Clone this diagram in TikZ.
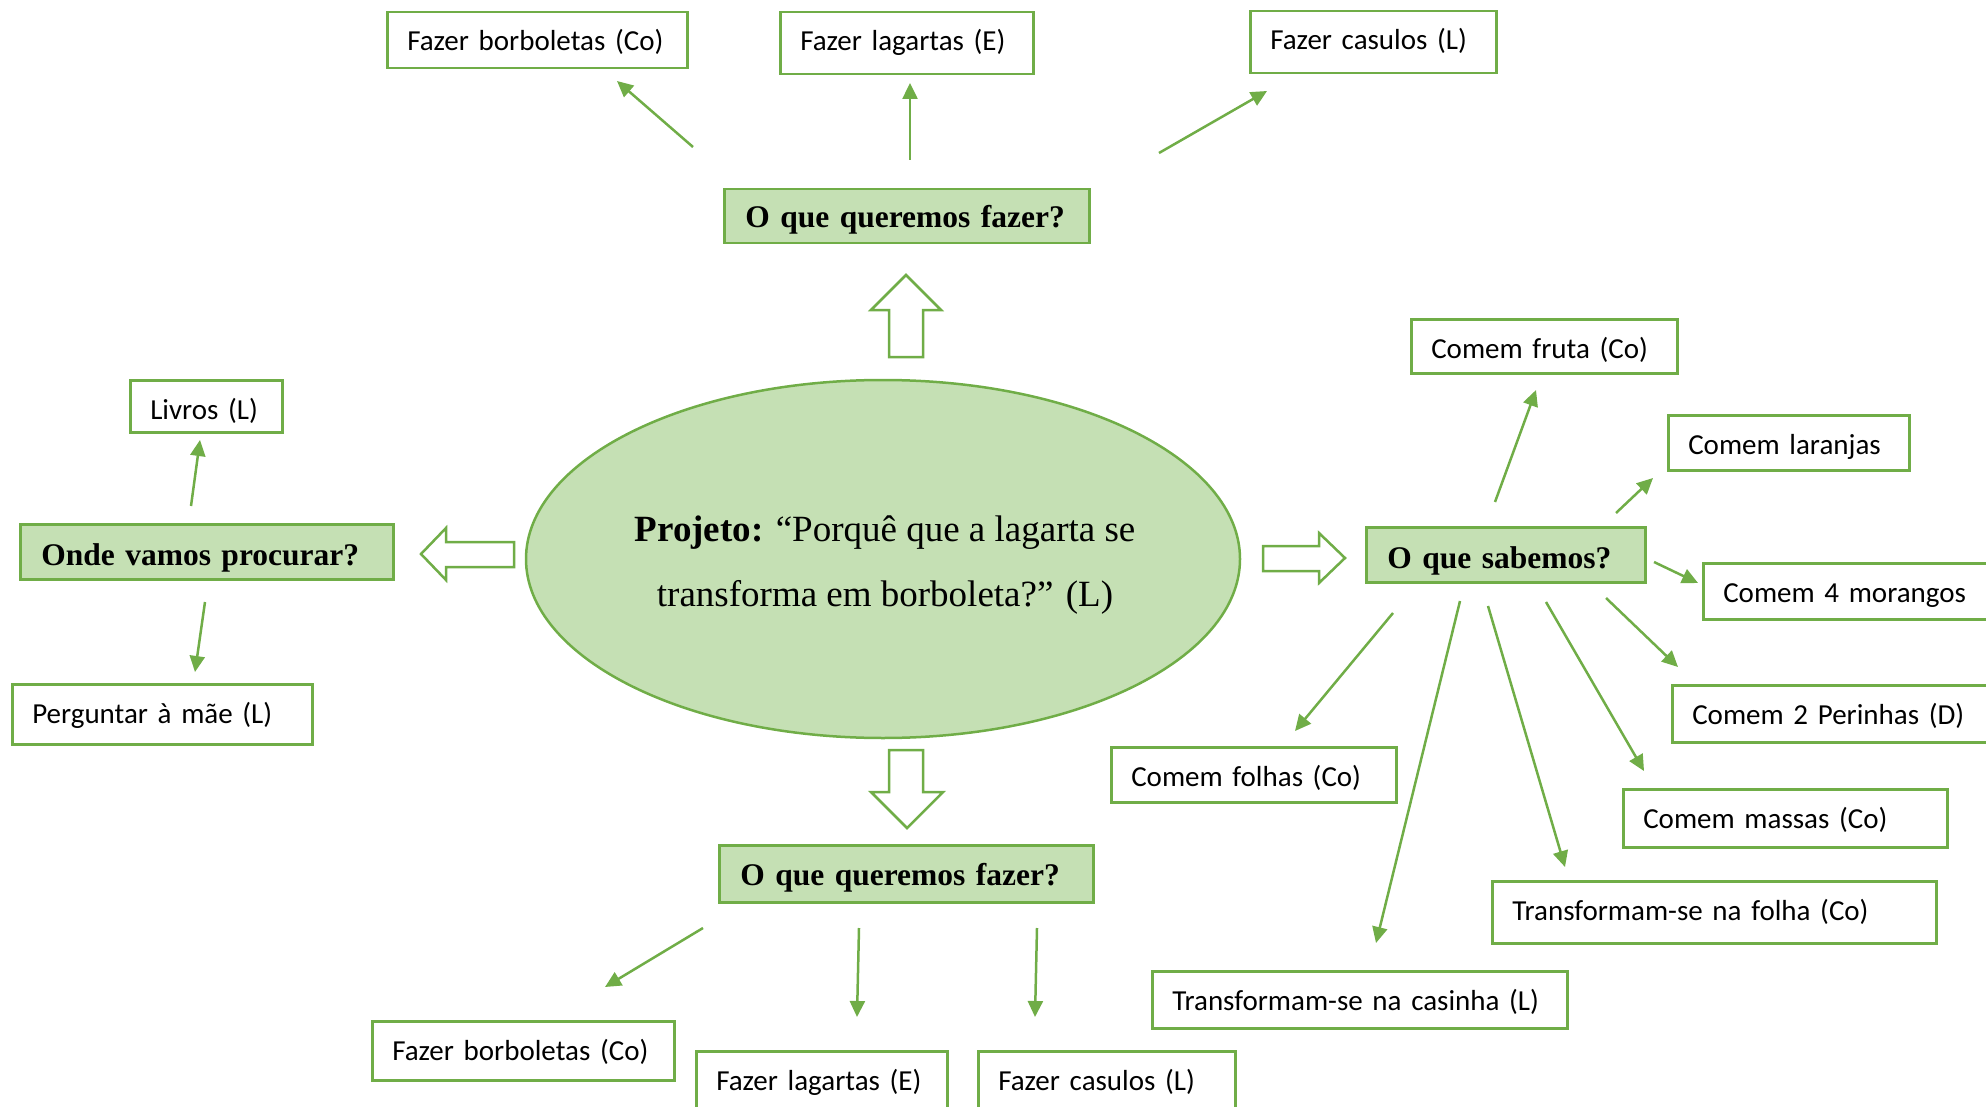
\documentclass[tikz,border=0pt]{standalone}
\usepackage{fontspec}
\setmainfont{Liberation Serif}
\newfontfamily\leaffont{Carlito}
\usetikzlibrary{shapes.geometric,arrows.meta}
\definecolor{gb}{HTML}{70AD47}
\definecolor{gf}{HTML}{C5E0B4}
\begin{document}
\begin{tikzpicture}[x=1pt,y=-1pt,
  leaf/.style={draw=gb, line width=2.5pt, fill=white, inner xsep=20pt, inner ysep=0pt,
    align=left, anchor=north west, text height=39pt,
    font=\leaffont\fontsize{29}{35}\selectfont},
  head/.style={draw=gb, line width=2.5pt, fill=gf, inner xsep=21pt, inner ysep=0pt,
    align=left, anchor=north west, text height=41pt,
    font=\bfseries\fontsize{31.5}{38}\selectfont},
  arr/.style={draw=gb, line width=2.5pt, -{Triangle[length=16pt,width=15pt]}},
  blk/.style={draw=gb, line width=2.5pt, fill=white, line join=miter}]
\useasboundingbox (0,0) rectangle (1986,1107);

% central ellipse
\node[ellipse, draw=gb, line width=2.5pt, fill=gf, minimum width=714pt, minimum height=358pt,
  inner sep=0pt] (proj) at (883,559) {};
\node[align=center, inner sep=0pt, font=\fontsize{37}{65}\selectfont] (projt) at (885,565)
  {\textbf{Projeto:} “Porquê que a lagarta se\\transforma em borboleta?” (L)};

% headings
\node[head, text width=323pt, minimum height=54pt, text height=38.5pt, text depth=15.5pt] (qtop) at (723,188) {O que queremos fazer?};
\node[head, text width=332pt, minimum height=57pt, text height=40pt, text depth=17pt] (qbot) at (718,844) {O que queremos fazer?};
\node[head, text width=331pt, minimum height=55pt, text depth=14pt] (onde) at (19,523) {Onde vamos procurar?};
\node[head, text width=237pt, minimum height=55pt, text depth=14pt] (sab) at (1365,526) {O que sabemos?};

% block arrows
\draw[blk] (889,357) -- (889,310) -- (871,310) -- (906,275) -- (941,310) -- (923,310) -- (923,357) -- cycle;
\draw[blk] (889,750) -- (889,792) -- (871,792) -- (907,828) -- (943,792) -- (923,792) -- (923,750) -- cycle;
\draw[blk] (1263,546) -- (1319,546) -- (1319,533) -- (1345,558) -- (1319,583) -- (1319,571) -- (1263,571) -- cycle;
\draw[blk] (514,542) -- (446,542) -- (446,528) -- (421,554) -- (446,580) -- (446,567) -- (514,567) -- cycle;

% top leaves
\node[leaf, text width=260pt, minimum height=56pt, text height=38pt, text depth=18pt] (tb) at (386,11) {Fazer borboletas (Co)};
\node[leaf, text width=213pt, minimum height=62pt, text height=38pt, text depth=24pt] (tl) at (779,11) {Fazer lagartas (E)};
\node[leaf, text width=206pt, minimum height=62pt, text height=38pt, text depth=24pt] (tc) at (1249,10) {Fazer casulos (L)};
% left leaves
\node[leaf, text width=112pt, minimum height=52pt, text depth=13pt] (livros) at (129,379) {Livros (L)};
\node[leaf, text width=260pt, minimum height=60pt, text depth=21pt] (perg) at (11,683) {Perguntar à mãe (L)};
% right leaves
\node[leaf, text width=226pt, minimum height=54pt, text depth=15pt] (fruta) at (1410,318) {Comem fruta (Co)};
\node[leaf, text width=201pt, minimum height=55pt, text depth=16pt] (lar) at (1667,414) {Comem laranjas};
\node[leaf, text width=300pt, minimum height=56pt, text depth=17pt] (mor) at (1702,562) {Comem 4 morangos};
\node[leaf, text width=320pt, minimum height=57pt, text depth=18pt] (per) at (1671,684) {Comem 2 Perinhas (D)};
\node[leaf, text width=245pt, minimum height=55pt, text depth=16pt] (folhas) at (1110,746) {Comem folhas (Co)};
\node[leaf, text width=284pt, minimum height=58pt, text depth=19pt] (massas) at (1622,788) {Comem massas (Co)};
\node[leaf, text width=404pt, minimum height=62pt, text depth=23pt] (tfolha) at (1491,880) {Transformam-se na folha (Co)};
\node[leaf, text width=375pt, minimum height=57pt, text depth=18pt] (cas) at (1151,970) {Transformam-se na casinha (L)};
% bottom leaves
\node[leaf, text width=262pt, minimum height=59pt, text depth=20pt] (bb) at (371,1020) {Fazer borboletas (Co)};
\node[leaf, text width=211pt, minimum height=62pt, text height=39pt, text depth=23pt] (bl) at (695,1050) {Fazer lagartas (E)};
\node[leaf, text width=217pt, minimum height=62pt, text height=39pt, text depth=23pt] (bc) at (977,1050) {Fazer casulos (L)};

% arrow end points
\coordinate (a1s) at (693,147);  \coordinate (a1e) at (617,81);
\coordinate (a2s) at (910,160);  \coordinate (a2e) at (910,83);
\coordinate (a3s) at (1159,153); \coordinate (a3e) at (1267,91);
\coordinate (l1s) at (191,506);  \coordinate (l1e) at (200,440);
\coordinate (l2s) at (205,602);  \coordinate (l2e) at (195,672);
\coordinate (r1s) at (1495,502); \coordinate (r1e) at (1536,390);
\coordinate (r2s) at (1616,513); \coordinate (r2e) at (1653,478);
\coordinate (r3s) at (1654,562); \coordinate (r3e) at (1698,583);
\coordinate (r4s) at (1606,598); \coordinate (r4e) at (1678,667);
\coordinate (r5s) at (1546,602); \coordinate (r5e) at (1644,771);
\coordinate (r6s) at (1488,606); \coordinate (r6e) at (1565,867);
\coordinate (r7s) at (1460,601); \coordinate (r7e) at (1376,943);
\coordinate (r8s) at (1393,613); \coordinate (r8e) at (1295,731);
\coordinate (b1s) at (703,928);  \coordinate (b1e) at (605,987);
\coordinate (b2s) at (859,928);  \coordinate (b2e) at (857,1017);
\coordinate (b3s) at (1037,928); \coordinate (b3e) at (1035,1017);

\foreach \a in {a1,a2,a3,l1,l2,r1,r2,r3,r4,r5,r6,r7,r8,b1,b2,b3}
  \draw[arr] (\a s) -- (\a e);
\end{tikzpicture}
\end{document}
